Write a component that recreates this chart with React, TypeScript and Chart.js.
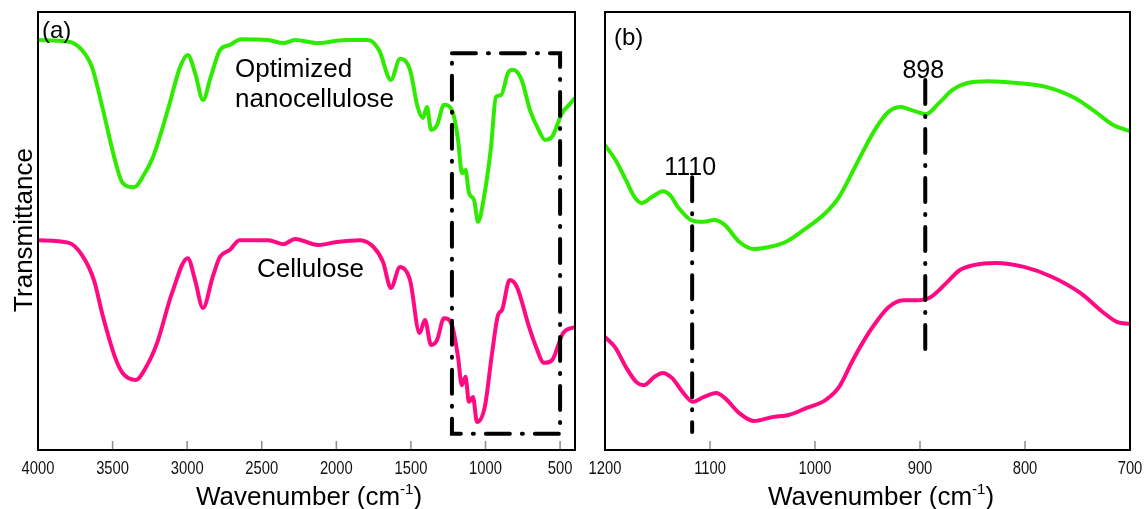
import { useEffect, useRef } from "react";
import { Chart, registerables } from "chart.js";

Chart.register(...registerables);

const FONT = "'Liberation Sans', Arial, Helvetica, sans-serif";
const GREEN = "#2FEB00";
const PINK = "#FF0A82";

// ---------- Panel (a): full FTIR spectra ----------
const waveNanoA = [4000, 3792, 3705, 3638, 3564, 3484, 3433, 3356, 3291, 3229, 3124, 3048, 2996, 2947, 2894, 2842, 2780, 2713, 2639, 2458, 2354, 2277, 2123, 1942, 1788, 1714, 1634, 1573, 1506, 1455, 1419, 1392, 1365, 1325, 1278, 1225, 1184, 1158, 1134, 1111, 1077, 1050, 1010, 963, 930, 896, 849, 816, 758, 702, 644, 601, 554, 487, 440, 400];
const transNanoA = [93.6, 93.2, 91.3, 87.4, 77.6, 66.2, 61.0, 60.0, 62.8, 66.9, 78.3, 87.4, 90.2, 86.1, 79.9, 85.2, 91.3, 92.5, 93.8, 93.6, 92.9, 93.6, 92.9, 93.6, 93.6, 91.3, 84.5, 89.3, 86.8, 78.3, 75.8, 78.3, 73.1, 74.2, 78.8, 77.6, 70.8, 63.2, 63.9, 58.7, 57.1, 52.1, 57.8, 69.2, 80.6, 81.0, 86.1, 86.8, 84.5, 77.6, 73.1, 70.8, 71.5, 76.9, 78.8, 80.4];

const waveCellA = [4000, 3792, 3705, 3625, 3564, 3484, 3433, 3343, 3279, 3202, 3102, 2996, 2947, 2894, 2829, 2780, 2713, 2649, 2458, 2354, 2277, 2123, 1996, 1841, 1750, 1687, 1634, 1573, 1506, 1442, 1406, 1365, 1325, 1278, 1225, 1184, 1159, 1134, 1111, 1084, 1057, 1005, 956, 916, 889, 838, 789, 708, 661, 608, 554, 480, 400];
const transCellA = [47.9, 47.3, 44.5, 38.8, 30.4, 21.2, 17.6, 16.0, 18.7, 24.4, 35.8, 43.8, 38.8, 32.4, 39.5, 44.1, 45.7, 47.9, 47.9, 47.0, 48.2, 46.8, 47.5, 47.9, 46.3, 42.9, 37.0, 41.8, 38.8, 26.7, 29.7, 24.0, 25.1, 30.1, 28.5, 21.2, 14.8, 16.7, 11.0, 12.1, 6.4, 9.8, 22.1, 30.8, 32.0, 38.8, 37.2, 28.1, 23.5, 19.9, 20.5, 26.7, 28.1];

const ticksA = [4000, 3500, 3000, 2500, 2000, 1500, 1000, 500];
const tickLabelsA = ["4000", "3500", "3000", "2500", "2000", "1500", "1000", "500"];

const annotTextA = ["Optimized", "nanocellulose", "Cellulose"];
const annotWaveA = [2679, 2679, 2532];
const annotTransA = [85.2, 78.3, 39.5];

const boxWaveA = [1225, 500];
const boxTransA = [90.6, 3.7];

// ---------- Panel (b): 1200-700 cm-1 zoom ----------
const waveNanoB = [1200, 1190, 1180, 1172, 1165, 1155, 1145, 1138, 1130, 1118, 1106, 1096, 1086, 1072, 1058, 1045, 1028, 1011, 990, 977, 960, 943, 930, 918, 908, 894, 882, 869, 855, 835, 808, 780, 753, 733, 716, 700];
const transNanoB = [69.6, 66.2, 61.6, 57.8, 56.4, 57.8, 59.1, 58.2, 55.3, 52.5, 52.1, 52.5, 51.4, 47.5, 45.9, 46.3, 47.5, 50.2, 54.1, 57.8, 65.5, 73.1, 77.2, 78.3, 77.6, 76.7, 79.2, 82.2, 83.8, 84.2, 83.8, 82.9, 80.4, 77.2, 74.2, 72.8];

const waveCellB = [1200, 1190, 1180, 1170, 1163, 1153, 1145, 1136, 1126, 1116, 1106, 1094, 1086, 1072, 1058, 1041, 1025, 1008, 990, 977, 964, 947, 930, 916, 903, 890, 875, 862, 849, 828, 801, 774, 747, 726, 712, 700];
const transCellB = [25.8, 23.3, 18.9, 15.5, 14.8, 16.7, 17.6, 16.4, 13.2, 11.0, 12.1, 13.0, 11.9, 8.4, 6.6, 7.5, 8.0, 9.6, 11.4, 14.4, 20.5, 27.4, 32.6, 34.2, 34.2, 34.9, 38.1, 41.1, 42.2, 42.7, 41.8, 39.5, 35.8, 31.5, 29.2, 28.8];

const ticksB = [1200, 1100, 1000, 900, 800, 700];
const tickLabelsB = ["1200", "1100", "1000", "900", "800", "700"];

const markerWaveB = [1117, 895];
const markerLabelB = ["1110", "898"];
const markerTopB = [62.3, 84.5];
const markerBottomB = [4.1, 22.4];

const HEIGHT = 509;
const DASH = [24, 12, 1, 12];

type Series = { wave: number[]; trans: number[]; color: string };

function drawAxes(ctx: CanvasRenderingContext2D, chart: any, ticks: number[], labels: string[], titleCenter: number) {
  const { left, right, top, bottom } = chart.chartArea;
  const xs = chart.scales.x;
  ctx.save();
  ctx.setLineDash([]);
  ctx.strokeStyle = "#8c8c8c";
  ctx.lineWidth = 1.5;
  ticks.forEach((v) => {
    const x = xs.getPixelForValue(v);
    if (x > left + 3 && x < right - 3) {
      ctx.beginPath();
      ctx.moveTo(x, bottom);
      ctx.lineTo(x, bottom - 9);
      ctx.stroke();
    }
  });
  ctx.strokeStyle = "#000";
  ctx.lineWidth = 2;
  ctx.strokeRect(left, top, right - left, bottom - top);

  ctx.fillStyle = "#111";
  ctx.font = `18px ${FONT}`;
  ctx.textAlign = "center";
  ctx.textBaseline = "alphabetic";
  ticks.forEach((v, i) => {
    const x = xs.getPixelForValue(v);
    ctx.save();
    ctx.translate(x, 474);
    ctx.scale(0.82, 1);
    ctx.fillText(labels[i], 0, 0);
    ctx.restore();
  });

  // axis title with superscript
  const main = "Wavenumber (cm";
  const sup = "-1";
  const close = ")";
  ctx.fillStyle = "#000";
  ctx.textAlign = "left";
  ctx.font = `26px ${FONT}`;
  const w1 = ctx.measureText(main).width;
  const w3 = ctx.measureText(close).width;
  ctx.font = `15px ${FONT}`;
  const w2 = ctx.measureText(sup).width;
  let x = titleCenter - (w1 + w2 + w3) / 2;
  const base = 505;
  ctx.font = `26px ${FONT}`;
  ctx.fillText(main, x, base);
  x += w1;
  ctx.font = `15px ${FONT}`;
  ctx.fillText(sup, x, base - 11);
  x += w2;
  ctx.font = `26px ${FONT}`;
  ctx.fillText(close, x, base);
  ctx.restore();
}

function decorateA(ctx: CanvasRenderingContext2D, chart: any) {
  const xs = chart.scales.x;
  const ys = chart.scales.y;
  ctx.save();
  // dash-dot box
  const x1 = xs.getPixelForValue(boxWaveA[0]);
  const x2 = xs.getPixelForValue(boxWaveA[1]);
  const y1 = ys.getPixelForValue(boxTransA[0]);
  const y2 = ys.getPixelForValue(boxTransA[1]);
  ctx.strokeStyle = "#000";
  ctx.lineWidth = 4;
  ctx.lineCap = "round";
  ctx.setLineDash(DASH);
  ctx.beginPath();
  ctx.moveTo(x1, y1);
  ctx.lineTo(x2, y1);
  ctx.lineTo(x2, y2);
  ctx.lineTo(x1, y2);
  ctx.closePath();
  ctx.stroke();
  ctx.setLineDash([]);

  // annotations
  ctx.fillStyle = "#000";
  ctx.font = `26px ${FONT}`;
  ctx.textAlign = "left";
  ctx.textBaseline = "alphabetic";
  annotTextA.forEach((t, i) => {
    ctx.fillText(t, xs.getPixelForValue(annotWaveA[i]), ys.getPixelForValue(annotTransA[i]));
  });

  ctx.font = `24px ${FONT}`;
  ctx.fillText("(a)", 42, 38);

  ctx.save();
  ctx.font = `26px ${FONT}`;
  ctx.textAlign = "center";
  ctx.translate(32, 230);
  ctx.rotate(-Math.PI / 2);
  ctx.fillText("Transmittance", 0, 0);
  ctx.restore();
  ctx.restore();

  drawAxes(ctx, chart, ticksA, tickLabelsA, 309);
}

const LEFT_B = 578;

function decorateB(ctx: CanvasRenderingContext2D, chart: any) {
  const xs = chart.scales.x;
  const ys = chart.scales.y;
  ctx.save();
  ctx.strokeStyle = "#000";
  ctx.lineWidth = 4;
  ctx.lineCap = "round";
  ctx.setLineDash(DASH);
  markerWaveB.forEach((w, i) => {
    const x = xs.getPixelForValue(w);
    ctx.beginPath();
    ctx.moveTo(x, ys.getPixelForValue(markerTopB[i]));
    ctx.lineTo(x, ys.getPixelForValue(markerBottomB[i]));
    ctx.stroke();
  });
  ctx.setLineDash([]);
  ctx.fillStyle = "#000";
  ctx.font = `25px ${FONT}`;
  ctx.textAlign = "center";
  ctx.textBaseline = "alphabetic";
  markerWaveB.forEach((w, i) => {
    ctx.fillText(markerLabelB[i], xs.getPixelForValue(w) - 2, ys.getPixelForValue(markerTopB[i]) - 2);
  });
  ctx.textAlign = "left";
  ctx.font = `24px ${FONT}`;
  ctx.fillText("(b)", 614 - LEFT_B, 45);
  ctx.restore();

  drawAxes(ctx, chart, ticksB, tickLabelsB, 881 - LEFT_B);
}

type PanelProps = {
  left: number;
  width: number;
  padLeft: number;
  padRight: number;
  xMin: number;
  xMax: number;
  ticks: number[];
  series: Series[];
  decorate: (ctx: CanvasRenderingContext2D, chart: any) => void;
};

function Panel(p: PanelProps) {
  const ref = useRef<HTMLCanvasElement>(null);
  useEffect(() => {
    const canvas = ref.current;
    if (!canvas) return;
    const chart = new Chart(canvas, {
      type: "line",
      data: {
        datasets: p.series.map((s) => ({
          data: s.wave.map((w, i) => ({ x: w, y: s.trans[i] })),
          borderColor: s.color,
          borderWidth: 4,
          pointRadius: 0,
          cubicInterpolationMode: "monotone",
          fill: false,
        })),
      },
      options: {
        animation: false,
        responsive: false,
        devicePixelRatio: 1,
        events: [],
        layout: { padding: { left: p.padLeft, right: p.padRight, top: 12, bottom: 0 } },
        plugins: { legend: { display: false }, tooltip: { enabled: false } },
        scales: {
          x: {
            type: "linear",
            reverse: true,
            min: p.xMin,
            max: p.xMax,
            grid: { display: false },
            border: { display: false },
            ticks: { display: false },
            afterBuildTicks: (s: any) => {
              s.ticks = p.ticks.map((v) => ({ value: v }));
            },
            afterFit: (s: any) => {
              s.height = 59;
            },
          },
          y: { display: false, min: 0, max: 100 },
        },
      } as any,
      plugins: [
        {
          id: "decor",
          afterDraw: (c: any) => p.decorate(c.ctx, c),
        },
      ],
    });
    return () => chart.destroy();
  }, []);
  return (
    <canvas
      ref={ref}
      width={p.width}
      height={HEIGHT}
      style={{ position: "absolute", left: p.left, top: 0, width: p.width, height: HEIGHT }}
    />
  );
}

export default function App() {
  return (
    <div style={{ position: "absolute", left: 0, top: 0, width: 1145, height: HEIGHT, background: "#fff", overflow: "hidden" }}>
      <Panel
        left={0}
        width={590}
        padLeft={38}
        padRight={15}
        xMin={400}
        xMax={4000}
        ticks={ticksA}
        series={[
          { wave: waveNanoA, trans: transNanoA, color: GREEN },
          { wave: waveCellA, trans: transCellA, color: PINK },
        ]}
        decorate={decorateA}
      />
      <Panel
        left={LEFT_B}
        width={567}
        padLeft={27}
        padRight={15}
        xMin={700}
        xMax={1200}
        ticks={ticksB}
        series={[
          { wave: waveNanoB, trans: transNanoB, color: GREEN },
          { wave: waveCellB, trans: transCellB, color: PINK },
        ]}
        decorate={decorateB}
      />
    </div>
  );
}
